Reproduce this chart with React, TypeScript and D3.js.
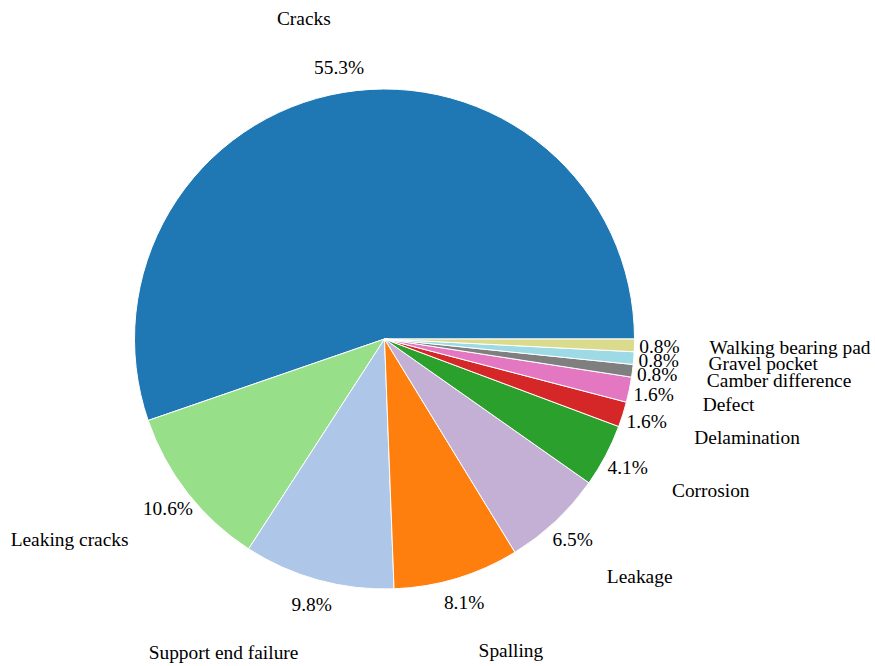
import React from "react";
import * as d3 from "d3";

const categories = [
  "Cracks",
  "Leaking cracks",
  "Support end failure",
  "Spalling",
  "Leakage",
  "Corrosion",
  "Delamination",
  "Defect",
  "Camber difference",
  "Gravel pocket",
  "Walking bearing pad",
];
const counts = [68, 13, 12, 10, 8, 5, 2, 2, 1, 1, 1];
const colors = [
  "#1f77b4",
  "#98df8a",
  "#aec7e8",
  "#ff7f0e",
  "#c5b0d5",
  "#2ca02c",
  "#d62728",
  "#e377c2",
  "#7f7f7f",
  "#9edae5",
  "#dbdb8d",
];

const W = 875;
const H = 666;
const cx = 384.5;
const cy = 339;
const R = 250;
const FONT = 19.4;
const FAMILY = "Liberation Serif, Times New Roman, DejaVu Serif, serif";

export default function App() {
  const data = categories.map((c, i) => ({ name: c, value: counts[i], color: colors[i] }));
  const total = d3.sum(counts);
  const pie = d3
    .pie<any>()
    .value((d) => d.value)
    .sort(null)
    .startAngle(Math.PI / 2)
    .endAngle(Math.PI / 2 - 2 * Math.PI);
  const arcs = pie(data);
  const arc = d3.arc<any>().innerRadius(0).outerRadius(R);
  const pos = (a: number, r: number) => [r * Math.sin(a), -r * Math.cos(a)];
  const ts = { fontFamily: FAMILY, fontSize: FONT + "px" };
  return (
    <svg
      width={W}
      height={H}
      style={{ position: "absolute", left: 0, top: 0, background: "#fff" }}
    >
      <g transform={`translate(${cx},${cy})`}>
        {arcs.map((a, i) => (
          <path key={i} d={arc(a) as string} fill={a.data.color} stroke="#fff" strokeWidth={1} strokeLinejoin="round" />
        ))}
        {arcs.map((a, i) => {
          const mid = (a.startAngle + a.endAngle) / 2;
          const [lx, ly] = pos(mid, R * 1.3);
          const [px, py] = pos(mid, R * 1.1);
          const pct = ((a.data.value / total) * 100).toFixed(1) + "%";
          return (
            <g key={"t" + i}>
              <text x={lx} y={ly} style={ts} textAnchor={lx > 0 ? "start" : "end"} dominantBaseline="central" fill="#000">
                {a.data.name}
              </text>
              <text x={px} y={py} style={ts} textAnchor="middle" dominantBaseline="central" fill="#000">
                {pct}
              </text>
            </g>
          );
        })}
      </g>
    </svg>
  );
}
